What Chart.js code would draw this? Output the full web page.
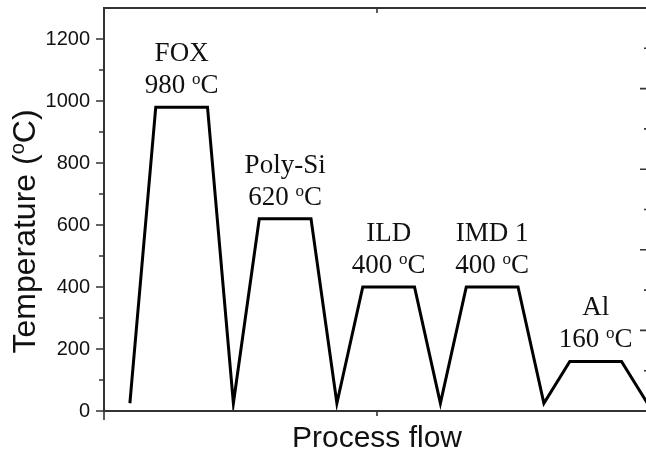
<!DOCTYPE html>
<html>
<head>
<meta charset="utf-8">
<script src="https://cdn.jsdelivr.net/npm/chart.js@4.4.0/dist/chart.umd.min.js"></script>
<style>
  html, body { margin: 0; padding: 0; background: #fff; overflow: hidden; }
  #wrap { width: 646px; height: 457px; overflow: hidden; }
</style>
</head>
<body>
<div id="wrap">
  <canvas id="chart" width="650" height="457"></canvas>
</div>
<script>
var stepNames = ["FOX", "Poly-Si", "ILD", "IMD 1", "Al"];
var processX = [1, 2, 4, 5, 6, 8, 9, 10, 12, 13, 14, 16, 17, 18, 20, 21];
var temperatures = [25, 980, 980, 25, 620, 620, 25, 400, 400, 25, 400, 400, 25, 160, 160, 25];
var yTickValues = [0, 200, 400, 600, 800, 1000, 1200];
var yMinorValues = [100, 300, 500, 700, 900, 1100];
var rightTickValues = [1, 2, 3, 4];
var rightMinorValues = [0.5, 1.5, 2.5, 3.5, 4.5];
var xMajorValues = [0, 21.1];
var xMinorValues = [10.55];

var points = processX.map(function (x, i) {
  return { x: x, y: temperatures[i] };
});

var serif = "'Liberation Serif', 'Times New Roman', serif";
var sans = "'Liberation Sans', Arial, sans-serif";

function drawDegreeText(ctx, parts, x, y, size, font, align) {
  // parts: [before, "o", after] -> superscript o
  ctx.font = size + "px " + font;
  var w1 = ctx.measureText(parts[0]).width;
  var w3 = ctx.measureText(parts[2]).width;
  var small = Math.round(size * 0.62);
  ctx.font = small + "px " + font;
  var w2 = ctx.measureText("o").width;
  var total = w1 + w2 + w3;
  var left = align === "center" ? x - total / 2 : x;
  ctx.textAlign = "left";
  ctx.textBaseline = "alphabetic";
  ctx.font = size + "px " + font;
  ctx.fillText(parts[0], left, y);
  ctx.font = small + "px " + font;
  ctx.fillText("o", left + w1, y - size * 0.34);
  ctx.font = size + "px " + font;
  ctx.fillText(parts[2], left + w1 + w2, y);
}

var framePlugin = {
  id: "frame",
  afterDraw: function (chart) {
    var ctx = chart.ctx;
    var area = chart.chartArea;
    var xs = chart.scales.x;
    var ys = chart.scales.y;
    var y2 = chart.scales.y2;
    ctx.save();
    ctx.strokeStyle = "#333";
    ctx.lineWidth = 2;
    ctx.strokeRect(area.left, area.top, area.right - area.left, area.bottom - area.top);

    ctx.lineWidth = 1.6;
    ctx.beginPath();
    yTickValues.forEach(function (v) {
      var p = ys.getPixelForValue(v);
      ctx.moveTo(area.left - 8, p); ctx.lineTo(area.left, p);
    });
    yMinorValues.forEach(function (v) {
      var p = ys.getPixelForValue(v);
      ctx.moveTo(area.left - 5, p); ctx.lineTo(area.left, p);
    });
    rightTickValues.forEach(function (v) {
      var p = y2.getPixelForValue(v);
      ctx.moveTo(area.right - 10, p); ctx.lineTo(area.right, p);
    });
    rightMinorValues.forEach(function (v) {
      var p = y2.getPixelForValue(v);
      ctx.moveTo(area.right - 6, p); ctx.lineTo(area.right, p);
    });
    xMajorValues.forEach(function (v) {
      var p = xs.getPixelForValue(v);
      ctx.moveTo(p, area.bottom); ctx.lineTo(p, area.bottom + 9);
    });
    xMinorValues.forEach(function (v) {
      var p = xs.getPixelForValue(v);
      ctx.moveTo(p, area.bottom); ctx.lineTo(p, area.bottom + 5);
      ctx.moveTo(p, area.top); ctx.lineTo(p, area.top + 5);
    });
    ctx.stroke();

    // y title with superscript o
    ctx.fillStyle = "#111";
    ctx.translate(35, (area.top + area.bottom) / 2 + 22);
    ctx.rotate(-Math.PI / 2);
    drawDegreeText(ctx, ["Temperature (", "o", "C)"], 0, 0, 32, sans, "center");
    ctx.restore();

    // step labels above each plateau
    ctx.save();
    ctx.fillStyle = "#111";
    var k = 0;
    for (var i = 0; i < points.length - 1; i++) {
      if (points[i].y === points[i + 1].y) {
        var cx = (xs.getPixelForValue(points[i].x) + xs.getPixelForValue(points[i + 1].x)) / 2;
        var py = ys.getPixelForValue(points[i].y);
        ctx.font = "27px " + serif;
        ctx.textAlign = "center";
        ctx.textBaseline = "alphabetic";
        ctx.fillText(stepNames[k], cx, py - 46);
        drawDegreeText(ctx, [points[i].y + " ", "o", "C"], cx, py - 14, 27, serif, "center");
        k++;
      }
    }
    ctx.restore();
  }
};

var ctx = document.getElementById("chart").getContext("2d");
var myChart = new Chart(ctx, {
  type: "line",
  data: {
    datasets: [
      {
        label: "Temperature",
        data: points,
        borderColor: "#000",
        borderWidth: 3,
        borderJoinStyle: "miter",
        pointRadius: 0,
        pointHoverRadius: 0,
        fill: false,
        tension: 0
      }
    ]
  },
  options: {
    responsive: false,
    animation: false,
    devicePixelRatio: 1,
    layout: { padding: { top: 8, right: 0, bottom: 0, left: 0 } },
    plugins: { legend: { display: false }, tooltip: { enabled: false } },
    scales: {
      x: {
        type: "linear",
        min: 0,
        max: 21.1,
        grid: { display: false, drawTicks: false },
        border: { display: false },
        ticks: { display: false },
        title: {
          display: true,
          text: "Process flow",
          color: "#111",
          font: { family: sans, size: 30 },
          padding: { top: 0, bottom: 0 }
        },
        afterFit: function (scale) {
          scale.height = 46;
          scale.paddingLeft = 0;
          scale.paddingRight = 0;
        }
      },
      y: {
        min: 0,
        max: 1300,
        grid: { display: false, drawTicks: false },
        border: { display: false },
        ticks: {
          color: "#111",
          padding: 14,
          font: { family: sans, size: 20 },
          callback: function (v) { return String(v); }
        },
        afterBuildTicks: function (scale) {
          scale.ticks = yTickValues.map(function (v) { return { value: v }; });
        },
        afterFit: function (scale) {
          scale.width = 104;
          scale.paddingTop = 0;
          scale.paddingBottom = 0;
        }
      },
      y2: {
        position: "right",
        display: false,
        min: 0,
        max: 5
      }
    }
  },
  plugins: [framePlugin]
});
</script>
</body>
</html>
